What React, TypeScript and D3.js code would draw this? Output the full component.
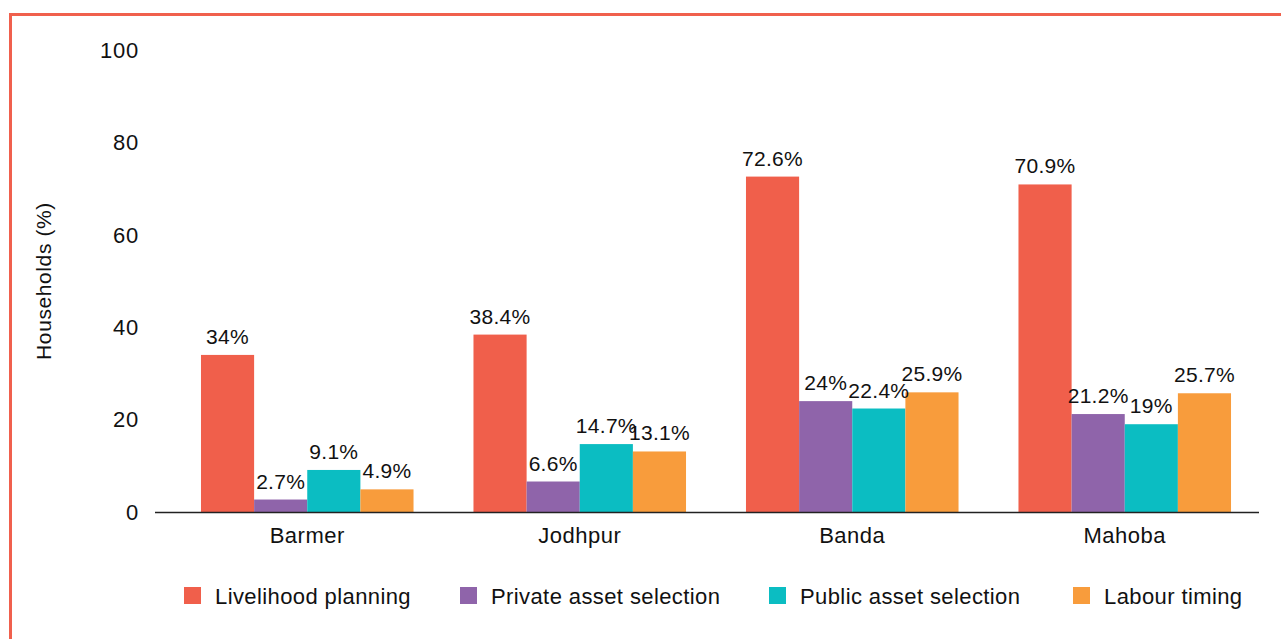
import React, { useEffect, useRef } from 'react';
import * as d3 from 'd3';

const districts = ['Barmer', 'Jodhpur', 'Banda', 'Mahoba'];
const seriesNames = ['Livelihood planning', 'Private asset selection', 'Public asset selection', 'Labour timing'];
const livelihood = [34, 38.4, 72.6, 70.9];
const privateAsset = [2.7, 6.6, 24, 21.2];
const publicAsset = [9.1, 14.7, 22.4, 19];
const labourTiming = [4.9, 13.1, 25.9, 25.7];
const yTicks = [0, 20, 40, 60, 80, 100];
const colors = ['#F05F4B', '#8F64AA', '#0BBDC2', '#F89C3C'];

const App = () => {
    const svgRef = useRef<SVGSVGElement>(null);

    useEffect(() => {
        const svg = d3.select(svgRef.current);
        svg.selectAll('*').remove();

        const width = 1281;
        const height = 639;
        const font = '"Liberation Sans", Arial, sans-serif';
        const series = [livelihood, privateAsset, publicAsset, labourTiming];

        // frame
        svg.append('rect')
            .attr('x', 10.5).attr('y', 14.5)
            .attr('width', width + 20).attr('height', height + 20)
            .attr('fill', 'none')
            .attr('stroke', '#F0604D')
            .attr('stroke-width', 3);

        const x0 = d3.scaleBand().domain(districts).range([171, 1261]).paddingInner(0.22).paddingOuter(0.11);
        const x1 = d3.scaleBand().domain(seriesNames).range([0, x0.bandwidth()]);
        const y = d3.scaleLinear().domain([0, 100]).range([512, 50]);

        // y tick labels
        svg.append('g').selectAll('text')
            .data(yTicks)
            .enter().append('text')
            .attr('x', 139)
            .attr('y', d => y(d))
            .attr('dy', '0.35em')
            .attr('text-anchor', 'end')
            .attr('font-family', font)
            .attr('font-size', '22px')
            .attr('letter-spacing', '0.8px')
            .attr('fill', '#111')
            .text(d => d);

        svg.append('text')
            .attr('transform', `translate(51, ${y(50)}) rotate(-90)`)
            .attr('text-anchor', 'middle')
            .attr('font-family', font)
            .attr('font-size', '21px')
            .attr('letter-spacing', '0.6px')
            .attr('fill', '#111')
            .text('Households (%)');

        // bars
        const groups = svg.append('g').selectAll('g')
            .data(districts)
            .enter().append('g')
            .attr('transform', d => `translate(${x0(d)},0)`);

        groups.selectAll('rect')
            .data((_, i) => series.map((s, k) => ({ key: seriesNames[k], value: s[i], k })))
            .enter().append('rect')
            .attr('x', d => x1(d.key)!)
            .attr('y', d => y(d.value))
            .attr('width', x1.bandwidth())
            .attr('height', d => y(0) - y(d.value))
            .attr('fill', d => colors[d.k]);

        groups.selectAll('text')
            .data((_, i) => series.map((s, k) => ({ key: seriesNames[k], value: s[i], k })))
            .enter().append('text')
            .attr('x', d => x1(d.key)! + x1.bandwidth() / 2)
            .attr('y', d => y(d.value) - 11)
            .attr('text-anchor', 'middle')
            .attr('font-family', font)
            .attr('font-size', '21px')
            .attr('letter-spacing', '0.3px')
            .attr('fill', '#111')
            .text(d => `${d.value}%`);

        // x axis
        svg.append('line')
            .attr('x1', 155).attr('x2', 1259)
            .attr('y1', y(0) + 0.5).attr('y2', y(0) + 0.5)
            .attr('stroke', '#222')
            .attr('stroke-width', 1.5);

        svg.append('g').selectAll('text')
            .data(districts)
            .enter().append('text')
            .attr('x', d => x0(d)! + x0.bandwidth() / 2)
            .attr('y', 543)
            .attr('text-anchor', 'middle')
            .attr('font-family', font)
            .attr('font-size', '22px')
            .attr('letter-spacing', '0.5px')
            .attr('fill', '#111')
            .text(d => d);

        // legend
        const legendX = [184, 460, 769, 1073];
        const legend = svg.append('g').selectAll('g')
            .data(seriesNames)
            .enter().append('g')
            .attr('transform', (_, i) => `translate(${legendX[i]}, 587)`);

        legend.append('rect')
            .attr('width', 17)
            .attr('height', 17)
            .attr('fill', (_, i) => colors[i]);

        legend.append('text')
            .attr('x', 31)
            .attr('y', 17)
            .attr('font-family', font)
            .attr('font-size', '22px')
            .attr('letter-spacing', '0.4px')
            .attr('fill', '#111')
            .text(d => d);
    }, []);

    return (
        <svg ref={svgRef} width={1281} height={639}
            style={{ position: 'absolute', left: 0, top: 0, background: '#fff' }}></svg>
    );
};

export default App;
